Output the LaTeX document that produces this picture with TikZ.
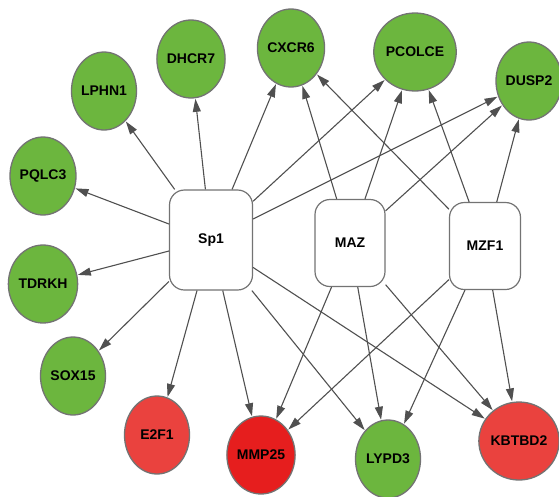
\documentclass[tikz,border=0pt]{standalone}
\usepackage{fontspec}
\setmainfont{Liberation Sans}
\usetikzlibrary{shapes.geometric,arrows.meta}
\definecolor{genegreen}{RGB}{108,182,62}
\definecolor{genered}{RGB}{234,66,62}
\definecolor{deepred}{RGB}{230,30,30}
\definecolor{edgegray}{RGB}{80,80,80}
\begin{document}
\begin{tikzpicture}[x=1pt,y=-1pt,
  gene/.style={ellipse,draw=gray!90!black,line width=1.3pt,minimum width=65pt,minimum height=78pt,inner sep=0pt,font=\bfseries\fontsize{14}{16}\selectfont},
  tf/.style={rectangle,rounded corners=15pt,draw=gray!90!black,line width=1.2pt,fill=white,inner sep=0pt,font=\bfseries\fontsize{14}{16}\selectfont},
  link/.style={draw=edgegray,line width=1.1pt,-{Triangle[length=13pt,width=8pt]},shorten >=0.5pt}]
\useasboundingbox (0,0) rectangle (559,496);
% regulators
\node[tf,minimum width=83pt,minimum height=100pt] (sp1) at (211,240) {Sp1};
\node[tf,minimum width=70pt,minimum height=87pt] (maz) at (350,243) {MAZ};
\node[tf,minimum width=71pt,minimum height=87pt] (mzf1) at (485,246) {MZF1};
% targets
\node[gene,fill=genegreen] (lphn1) at (104,91) {LPHN1};
\node[gene,fill=genegreen] (dhcr7) at (191,59) {DHCR7};
\node[gene,fill=genegreen] (cxcr6) at (291,48) {CXCR6};
\node[gene,fill=genegreen] (pcolce) at (415,52) {PCOLCE};
\node[gene,fill=genegreen] (dusp2) at (529,81) {DUSP2};
\node[gene,fill=genegreen] (pqlc3) at (43,176) {PQLC3};
\node[gene,fill=genegreen] (tdrkh) at (43,284) {TDRKH};
\node[gene,fill=genegreen] (sox15) at (73,376) {SOX15};
\node[gene,fill=genered] (e2f1) at (157,435) {E2F1};
\node[gene,fill=deepred] (mmp25) at (261,455) {MMP25};
\node[gene,fill=genegreen] (lypd3) at (388,459) {LYPD3};
\node[gene,fill=genered] (kbtbd2) at (519,441) {KBTBD2};
% edges
\foreach \t in {lphn1,dhcr7,cxcr6,pcolce,dusp2,pqlc3,tdrkh,sox15,e2f1,mmp25,lypd3,kbtbd2}
  \draw[link] (sp1) -- (\t);
\foreach \t in {cxcr6,pcolce,dusp2,mmp25,lypd3,kbtbd2}{
  \draw[link] (maz) -- (\t);
  \draw[link] (mzf1) -- (\t);
}
\end{tikzpicture}
\end{document}
